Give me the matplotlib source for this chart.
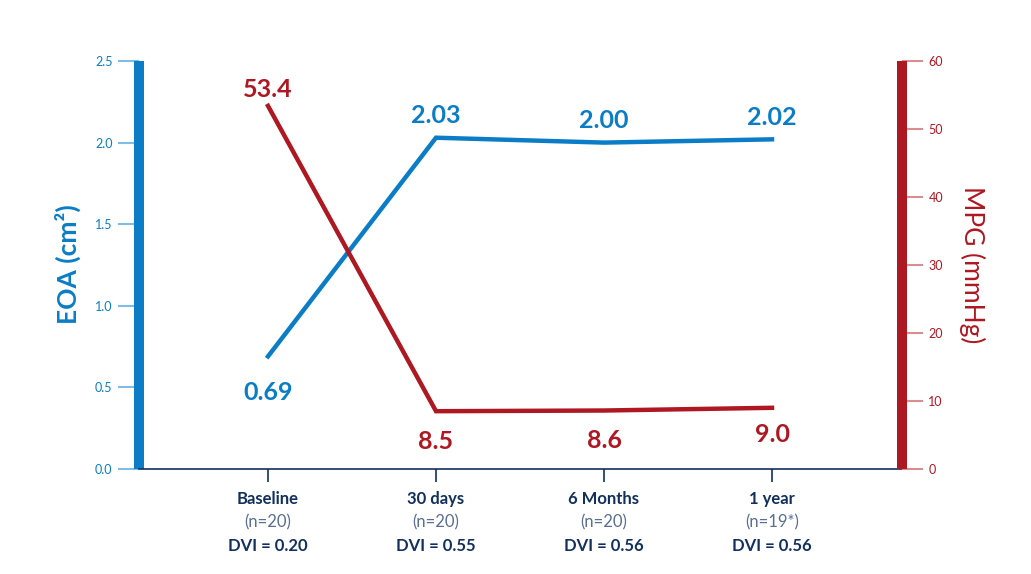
import matplotlib
matplotlib.use("Agg")
import matplotlib.pyplot as plt
from matplotlib.transforms import blended_transform_factory

plt.rcParams['font.family'] = ['Lato', 'DejaVu Sans']

# ---- data ----
categories = ["Baseline", "30 days", "6 Months", "1 year"]
n_labels = ["(n=20)", "(n=20)", "(n=20)", "(n=19*)"]
dvi_labels = ["DVI = 0.20", "DVI = 0.55", "DVI = 0.56", "DVI = 0.56"]
eoa = [0.69, 2.03, 2.00, 2.02]
eoa_text = ["0.69", "2.03", "2.00", "2.02"]
mpg = [53.4, 8.5, 8.6, 9.0]
mpg_text = ["53.4", "8.5", "8.6", "9.0"]

BLUE = "#0a7dc6"
RED = "#ae1822"
NAVY = "#12305e"
LBLUE = "#7fbde6"
LRED = "#d98d93"

W, H = 1031, 574
fig = plt.figure(figsize=(W / 100, H / 100), dpi=100)
L, R, T, B = 139, 902, 61, 469
ax = fig.add_axes([L / W, 1 - B / H, (R - L) / W, (B - T) / H])
ax2 = ax.twinx()

x = list(range(len(categories)))
ax.set_xlim(-129 / 168, 3 + 130 / 168)
ax.set_ylim(0, 2.5)
ax2.set_ylim(0, 60)

ax.plot(x, eoa, color=BLUE, lw=3.2, solid_joinstyle='miter', zorder=3)
ax2.plot(x, mpg, color=RED, lw=3.2, solid_joinstyle='miter', zorder=3)

# spines
for a in (ax, ax2):
    a.spines['top'].set_visible(False)
    a.patch.set_visible(False)
ax.spines['right'].set_visible(False)
ax2.spines['left'].set_visible(False)
ax2.spines['bottom'].set_visible(False)
ax.spines['left'].set_color(BLUE)
ax.spines['left'].set_linewidth(7.2)
ax.spines['left'].set_capstyle('butt')
ax2.spines['right'].set_color(RED)
ax2.spines['right'].set_linewidth(7.2)
ax2.spines['right'].set_capstyle('butt')
ax.spines['bottom'].set_color(NAVY)
ax.spines['bottom'].set_linewidth(1.2)

ax.set_yticks([0, 0.5, 1.0, 1.5, 2.0, 2.5])
ax.set_yticklabels(["0.0", "0.5", "1.0", "1.5", "2.0", "2.5"])
ax.tick_params(axis='y', colors=LBLUE, labelcolor=BLUE, length=15, width=1.5,
               labelsize=9, pad=4)
ax2.set_yticks([0, 10, 20, 30, 40, 50, 60])
ax2.tick_params(axis='y', colors=LRED, labelcolor=RED, length=15, width=1.5,
                labelsize=9, pad=4)

ax.set_xticks(x)
ax.set_xticklabels([""] * len(x))
ax.tick_params(axis='x', colors=NAVY, length=9, width=1.2, direction='out')

# x labels (three lines)
px = 0.72  # points per pixel
tr = blended_transform_factory(ax.transData, ax.transAxes)
for i in x:
    ax.annotate(categories[i], (i, 0), xycoords=tr, xytext=(0, -30 * px),
                textcoords='offset points', ha='center', va='center',
                fontsize=12, fontweight='bold', color=NAVY)
    ax.annotate(n_labels[i], (i, 0), xycoords=tr, xytext=(0, -53 * px),
                textcoords='offset points', ha='center', va='center',
                fontsize=12, color="#5a6f93")
    ax.annotate(dvi_labels[i], (i, 0), xycoords=tr, xytext=(0, -77 * px),
                textcoords='offset points', ha='center', va='center',
                fontsize=12, fontweight='bold', color=NAVY)

# value labels (pixel offsets, positive = downward)
eoa_off = [36, -22, -22, -22]
mpg_off = [-16, 30, 30, 27]
for i in x:
    ax.annotate(eoa_text[i], (i, eoa[i]), xytext=(0, -eoa_off[i] * px),
                textcoords='offset points', ha='center', va='center',
                fontsize=18, fontweight='bold', color=BLUE)
    ax2.annotate(mpg_text[i], (i, mpg[i]), xytext=(0, -mpg_off[i] * px),
                 textcoords='offset points', ha='center', va='center',
                 fontsize=18, fontweight='bold', color=RED)

fig.text(68 / W, 1 - 264 / H, "EOA (cm²)", rotation=90, ha='center', va='center',
         fontsize=19, fontweight='bold', color=BLUE)
fig.text(972 / W, 1 - 265 / H, "MPG (mmHg)", rotation=-90, ha='center', va='center',
         fontsize=19, color=RED)

fig.savefig("out.png", dpi=100)
